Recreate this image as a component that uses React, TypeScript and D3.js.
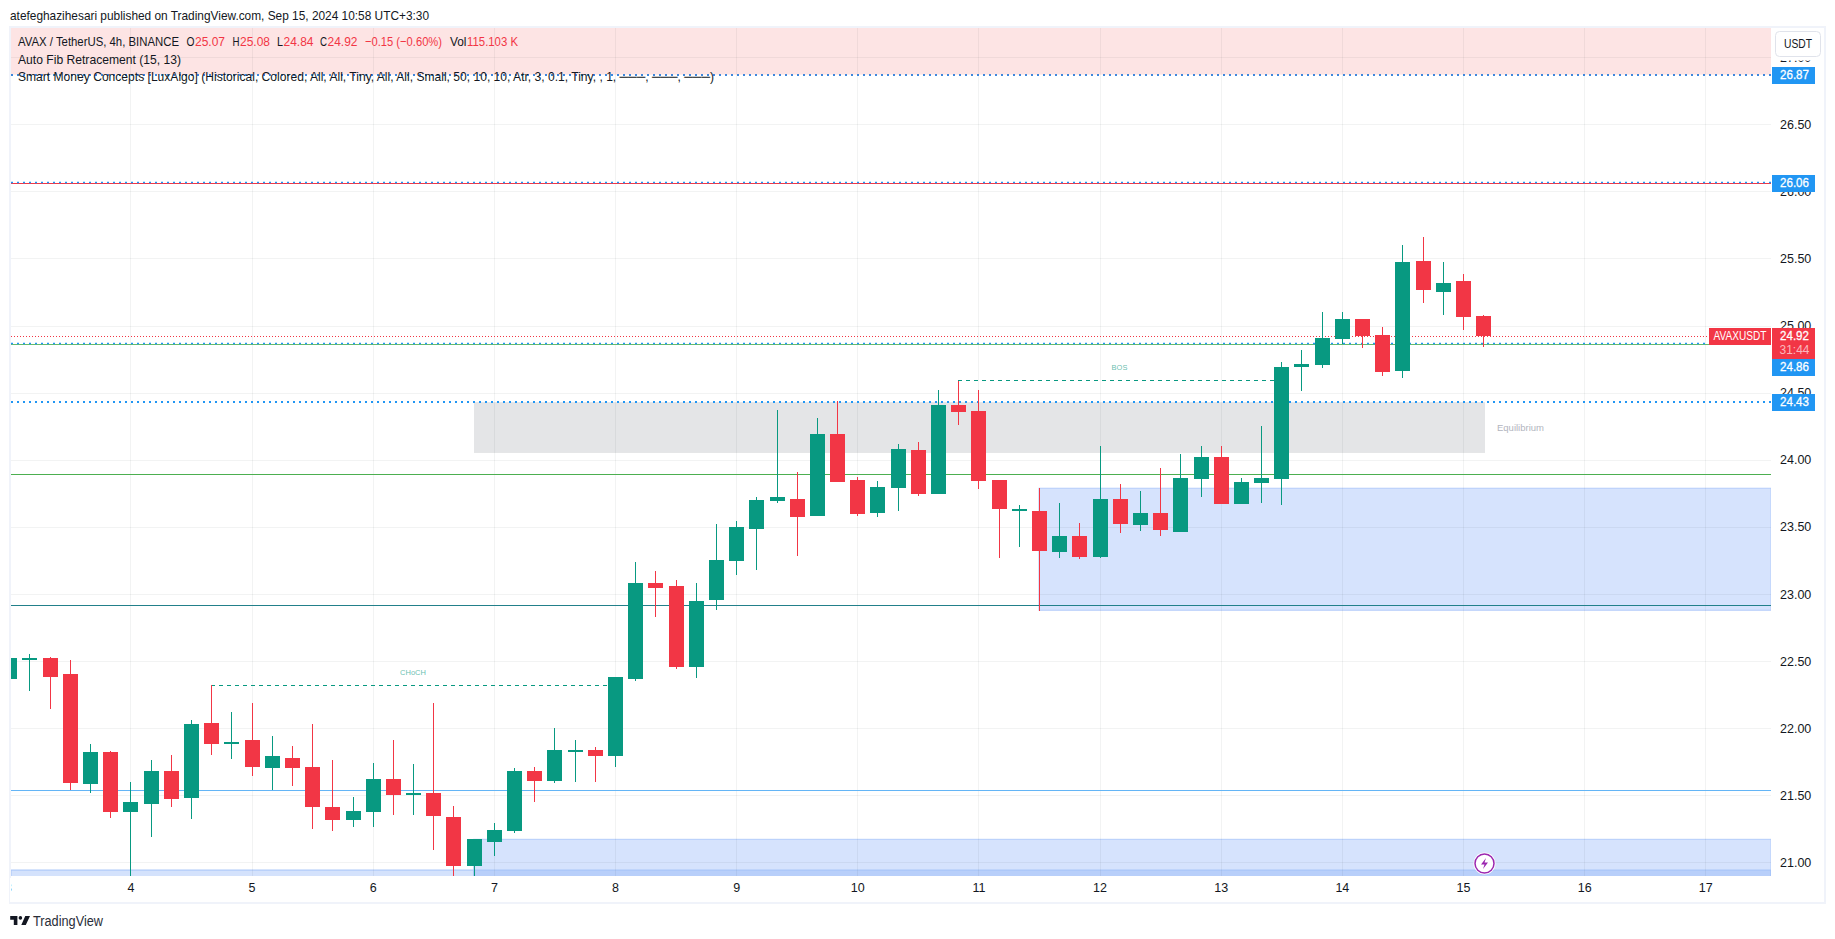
import React, { useEffect, useRef } from 'react';
import * as d3 from 'd3';

// 4h candles, first one sits on the day 3 tick
const opens = [22.366, 22.515, 22.523, 22.404, 21.584, 21.822, 21.375, 21.435, 21.681, 21.48, 22.039, 21.89, 21.912, 21.703, 21.778, 21.711, 21.413, 21.316, 21.375, 21.621, 21.502, 21.517, 21.338, 20.973, 21.152, 21.234, 21.681, 21.606, 21.83, 21.837, 21.793, 22.367, 23.082, 23.06, 22.456, 22.956, 23.246, 23.485, 23.693, 23.708, 23.582, 24.193, 23.85, 23.604, 23.79, 24.073, 23.746, 24.409, 24.364, 23.85, 23.625, 23.619, 23.313, 23.433, 23.276, 23.708, 23.514, 23.604, 23.462, 23.857, 24.021, 23.671, 23.827, 23.857, 24.692, 24.707, 24.9, 25.049, 24.93, 24.662, 25.481, 25.251, 25.332, 25.07];
const closes = [22.523, 22.525, 22.381, 21.591, 21.822, 21.375, 21.45, 21.681, 21.472, 22.031, 21.882, 21.9, 21.711, 21.793, 21.703, 21.413, 21.316, 21.383, 21.621, 21.502, 21.517, 21.345, 20.973, 21.174, 21.241, 21.681, 21.606, 21.837, 21.84, 21.793, 22.382, 23.082, 23.045, 22.456, 22.948, 23.254, 23.5, 23.701, 23.723, 23.574, 24.193, 23.835, 23.597, 23.798, 24.081, 23.746, 24.409, 24.357, 23.842, 23.634, 23.634, 23.321, 23.433, 23.276, 23.708, 23.522, 23.604, 23.477, 23.865, 24.021, 23.671, 23.835, 23.865, 24.692, 24.714, 24.908, 25.049, 24.923, 24.654, 25.474, 25.265, 25.318, 25.064, 24.92];
const highs = [22.523, 22.553, 22.533, 22.508, 21.882, 21.83, 21.599, 21.763, 21.8, 22.061, 22.319, 22.12, 22.188, 21.942, 21.867, 22.031, 21.763, 21.487, 21.74, 21.912, 21.733, 22.188, 21.42, 21.174, 21.293, 21.703, 21.711, 22.001, 21.912, 21.86, 22.382, 23.239, 23.172, 23.105, 23.082, 23.522, 23.544, 23.723, 24.371, 23.909, 24.312, 24.44, 23.872, 23.842, 24.118, 24.133, 24.52, 24.59, 24.52, 23.85, 23.664, 23.79, 23.678, 23.53, 24.103, 23.82, 23.768, 23.939, 24.044, 24.103, 24.103, 23.865, 24.252, 24.729, 24.818, 25.101, 25.101, 25.049, 24.99, 25.601, 25.66, 25.474, 25.385, 25.08];
const lows = [22.366, 22.277, 22.143, 21.539, 21.517, 21.331, 20.89, 21.189, 21.413, 21.323, 21.8, 21.77, 21.644, 21.539, 21.569, 21.249, 21.234, 21.264, 21.264, 21.353, 21.353, 21.092, 20.89, 20.89, 21.047, 21.219, 21.45, 21.591, 21.599, 21.599, 21.711, 22.352, 22.829, 22.442, 22.374, 22.881, 23.142, 23.179, 23.678, 23.284, 23.582, 23.835, 23.582, 23.574, 23.619, 23.731, 23.746, 24.26, 23.783, 23.269, 23.35, 22.874, 23.269, 23.261, 23.269, 23.455, 23.47, 23.433, 23.462, 23.723, 23.671, 23.671, 23.678, 23.664, 24.513, 24.684, 24.863, 24.833, 24.624, 24.61, 25.168, 25.079, 24.967, 24.84];

const priceTicks = [21, 21.5, 22, 22.5, 23, 23.5, 24, 24.5, 25, 25.5, 26, 26.5, 27];
const dayTicks = [3, 4, 5, 6, 7, 8, 9, 10, 11, 12, 13, 14, 15, 16, 17];

// text, x, colour, width
const legendParts = [
  ['AVAX / TetherUS, 4h, BINANCE', 18, '#131722', 161],
  ['O', 186.5, '#131722', 8], ['25.07', 195, '#f23645', 30],
  ['H', 232.5, '#131722', 7], ['25.08', 240, '#f23645', 30],
  ['L', 277, '#131722', 6], ['24.84', 283.5, '#f23645', 30],
  ['C', 320, '#131722', 7], ['24.92', 327.5, '#f23645', 30],
  ['−0.15 (−0.60%)', 365, '#f23645', 77],
  ['Vol', 450, '#131722', 16.5], ['115.103 K', 467, '#f23645', 51],
];
const studies = [
  ['Auto Fib Retracement (15, 13)', 163],
  ['Smart Money Concepts [LuxAlgo] (Historical, Colored, All, All, Tiny, All, All, Small, 50, 10, 10, Atr, 3, 0.1, Tiny, , 1, ───, ───, ───)', 696],
];

const FONT = '"Liberation Sans", Arial, sans-serif';
const GREEN = '#089981';
const RED = '#f23645';
const BLUE = '#2196f3';

export default function App() {
  const ref = useRef<SVGSVGElement>(null);

  useEffect(() => {
    const svg = d3.select(ref.current);
    svg.selectAll('*').remove();

    const pane = { left: 11, right: 1771, top: 28, bottom: 876 };
    const x = d3.scaleLinear().domain([8, 15]).range([615, 1463]);
    const y = d3.scaleLinear().domain([21, 26.5]).range([862.4, 124.3]);
    const px = (v: number) => Math.round(y(v)) + 0.5;
    const barX = (i: number) => Math.round(x(3 + i / 6));

    svg.append('rect').attr('width', 1835).attr('height', 939).attr('fill', '#fff');

    // frame around pane + axes
    svg.append('rect')
      .attr('x', 10).attr('y', 27).attr('width', 1815).attr('height', 876)
      .attr('fill', 'none').attr('stroke', '#f0f3fa').attr('stroke-width', 2);

    svg.append('clipPath').attr('id', 'pane').append('rect')
      .attr('x', pane.left).attr('y', pane.top)
      .attr('width', pane.right - pane.left).attr('height', pane.bottom - pane.top);

    const g = svg.append('g').attr('clip-path', 'url(#pane)');

    // premium zone up top
    g.append('rect')
      .attr('x', pane.left).attr('y', pane.top)
      .attr('width', pane.right - pane.left).attr('height', y(26.87) - pane.top)
      .attr('fill', '#fde4e4');

    // boxes are translucent so the grid shows through them
    const box = (day0: number, p0: number, p1: number, fill: string, stroke?: string) => {
      const r = g.append('rect')
        .attr('x', day0 === 0 ? pane.left : x(day0)).attr('y', y(p0))
        .attr('width', pane.right - (day0 === 0 ? pane.left : x(day0)))
        .attr('height', y(p1) - y(p0))
        .attr('fill', fill);
      if (stroke) r.attr('stroke', stroke);
    };
    box(3 + 51 / 6, 23.788, 22.879, '#d6e3fd', '#b4ccfa');
    box(3 + 23 / 6, 21.172, 20.8, '#d6e3fd', '#b4ccfa');
    box(0, 20.943, 20.8, 'rgba(120,165,245,0.32)', '#a5c3f8');

    g.append('rect')
      .attr('x', 474).attr('y', y(24.43))
      .attr('width', 1485 - 474).attr('height', y(24.051) - y(24.43))
      .attr('fill', '#e4e5e7');

    // grid
    g.append('g').selectAll('line').data(priceTicks).join('line')
      .attr('x1', pane.left).attr('x2', pane.right)
      .attr('y1', d => px(d)).attr('y2', d => px(d))
      .attr('stroke', 'rgba(42,46,57,0.06)');
    g.append('g').selectAll('line').data(dayTicks).join('line')
      .attr('x1', d => Math.round(x(d)) + 0.5).attr('x2', d => Math.round(x(d)) + 0.5)
      .attr('y1', pane.top).attr('y2', pane.bottom)
      .attr('stroke', 'rgba(42,46,57,0.06)');

    // horizontal levels
    const level = (yPos: number, color: string, dash?: string, w = 1, x2 = pane.right) => {
      const l = g.append('line')
        .attr('x1', pane.left).attr('x2', x2)
        .attr('y1', yPos).attr('y2', yPos)
        .attr('stroke', color).attr('stroke-width', w);
      if (dash) l.attr('stroke-dasharray', dash);
    };
    level(px(26.06), RED);
    level(px(24.86), '#66bb6a');
    level(px(23.892), '#4caf50');
    level(px(22.916), '#22808a');
    level(px(21.537), '#64b5f6');
    level(px(24.92), RED, '1 2', 1, 1709);
    level(Math.round(y(26.87)), '#3f87dc', '2 4', 2);
    level(px(26.06) - 0.9, BLUE, '2 4', 1.5);
    level(px(24.86) - 1.1, BLUE, '2 4', 1.5);
    level(Math.round(y(24.43)), BLUE, '2 4', 2);

    // structure breaks
    const breaks = [
      { from: 10, to: 30, price: 22.319, label: 'CHoCH' },
      { from: 47, to: 63, price: 24.593, label: 'BOS' },
    ];
    breaks.forEach(b => {
      g.append('line')
        .attr('x1', barX(b.from)).attr('x2', barX(b.to))
        .attr('y1', px(b.price)).attr('y2', px(b.price))
        .attr('stroke', GREEN).attr('stroke-dasharray', '4 4');
      g.append('text')
        .attr('x', (barX(b.from) + barX(b.to)) / 2).attr('y', px(b.price) - 12)
        .attr('text-anchor', 'middle').attr('dominant-baseline', 'middle')
        .attr('font-family', FONT).attr('font-size', 7.5)
        .attr('fill', GREEN).attr('fill-opacity', 0.65).text(b.label);
    });
    g.append('text')
      .attr('x', 1497).attr('y', 428).attr('dominant-baseline', 'middle')
      .attr('font-family', FONT).attr('font-size', 9.5).attr('fill', '#b2b5be').text('Equilibrium');

    // candles
    const color = (i: number) => (closes[i] >= opens[i] ? GREEN : RED);
    const bars = g.append('g').selectAll('g').data(opens).join('g');
    bars.append('line')
      .attr('x1', (_, i) => barX(i) + 0.5).attr('x2', (_, i) => barX(i) + 0.5)
      .attr('y1', (_, i) => Math.round(y(highs[i]))).attr('y2', (_, i) => Math.round(y(lows[i])))
      .attr('stroke', (_, i) => color(i));
    bars.append('rect')
      .attr('x', (_, i) => barX(i) - 7).attr('width', 15)
      .attr('y', (_, i) => Math.round(y(Math.max(opens[i], closes[i]))))
      .attr('height', (_, i) => Math.max(2, Math.round(Math.abs(y(opens[i]) - y(closes[i])))))
      .attr('fill', (_, i) => color(i));

    // price axis
    const axisY = svg.append('g')
      .attr('transform', 'translate(1780,0)')
      .call(d3.axisRight(y).tickValues(priceTicks).tickFormat(d3.format('.2f')).tickSize(0));
    axisY.select('.domain').remove();
    axisY.selectAll('text').attr('x', 0).attr('font-family', FONT).attr('font-size', 12.5).attr('fill', '#131722');

    // time axis
    const axisX = svg.append('g')
      .attr('transform', 'translate(0,876)')
      .call(d3.axisBottom(x).tickValues(dayTicks).tickFormat(d3.format('d')).tickSize(0));
    axisX.select('.domain').remove();
    axisX.selectAll('text').attr('y', 7).attr('font-family', FONT).attr('font-size', 12.5).attr('fill', '#131722');
    axisX.selectAll('.tick').filter(d => d === 3).select('text').attr('text-anchor', 'end').attr('dx', 2);
    // first label is cut by the chart edge
    svg.append('rect').attr('x', 0).attr('y', 878).attr('width', 11).attr('height', 24).attr('fill', '#fff');
    svg.append('rect').attr('x', 9).attr('y', 878).attr('width', 1).attr('height', 24).attr('fill', '#f0f3fa');

    // price labels, 24.86 is pushed below the countdown box
    const labels = [[26.87, '26.87', 0], [26.06, '26.06', 0], [24.86, '24.86', 23], [24.43, '24.43', 0]] as [number, string, number][];
    labels.forEach(([p, t, shift]) => {
      svg.append('rect')
        .attr('x', 1772).attr('y', px(p) - 8.5 + shift).attr('width', 43).attr('height', 17)
        .attr('fill', BLUE);
      svg.append('text')
        .attr('x', 1794.5).attr('y', px(p) + 0.5 + shift).attr('text-anchor', 'middle').attr('dominant-baseline', 'middle')
        .attr('font-family', FONT).attr('font-size', 13).attr('stroke', '#fff').attr('stroke-width', 0.3).attr('fill', '#fff')
        .attr('textLength', 29).attr('lengthAdjust', 'spacingAndGlyphs').text(t);
    });
    svg.append('path')
      .attr('d', 'M1772 328H1815V359H1772Z').attr('fill', RED);
    svg.append('text')
      .attr('x', 1794.5).attr('y', 336.5).attr('text-anchor', 'middle').attr('dominant-baseline', 'middle')
      .attr('font-family', FONT).attr('font-size', 13).attr('stroke', '#fff').attr('stroke-width', 0.3).attr('fill', '#fff')
      .attr('textLength', 29).attr('lengthAdjust', 'spacingAndGlyphs').text('24.92');
    svg.append('text')
      .attr('x', 1794.5).attr('y', 351).attr('text-anchor', 'middle').attr('dominant-baseline', 'middle')
      .attr('font-family', FONT).attr('font-size', 13).attr('fill', '#fff').attr('fill-opacity', 0.65)
      .attr('textLength', 30).attr('lengthAdjust', 'spacingAndGlyphs').text('31:44');
    svg.append('rect').attr('x', 1709).attr('y', 328).attr('width', 62).attr('height', 17).attr('fill', RED);
    svg.append('text')
      .attr('x', 1740).attr('y', 336.5).attr('text-anchor', 'middle').attr('dominant-baseline', 'middle')
      .attr('font-family', FONT).attr('font-size', 12.5).attr('fill', '#fff')
      .attr('textLength', 53).attr('lengthAdjust', 'spacingAndGlyphs').text('AVAXUSDT');

    // currency button, its white margin hides most of the 27.00 tick
    svg.append('rect').attr('x', 1772).attr('y', 28).attr('width', 52).attr('height', 32.5).attr('fill', '#fff');
    svg.append('rect')
      .attr('x', 1775.5).attr('y', 31.5).attr('width', 45).attr('height', 25).attr('rx', 4)
      .attr('fill', '#fff').attr('stroke', '#e0e3eb');
    svg.append('text')
      .attr('x', 1798).attr('y', 44.5).attr('text-anchor', 'middle').attr('dominant-baseline', 'middle')
      .attr('font-family', FONT).attr('font-size', 13).attr('fill', '#131722')
      .attr('textLength', 28).attr('lengthAdjust', 'spacingAndGlyphs').text('USDT');

    // published line and legend
    svg.append('text')
      .attr('x', 10).attr('y', 19.5).attr('font-family', FONT).attr('font-size', 13).attr('fill', '#131722')
      .attr('textLength', 419).attr('lengthAdjust', 'spacingAndGlyphs')
      .text('atefeghazihesari published on TradingView.com, Sep 15, 2024 10:58 UTC+3:30');
    svg.append('g').selectAll('text').data(legendParts).join('text')
      .attr('x', d => d[1] as number).attr('y', 46)
      .attr('font-family', FONT).attr('font-size', 13).attr('fill', d => d[2] as string)
      .attr('textLength', d => d[3] as number).attr('lengthAdjust', 'spacingAndGlyphs')
      .text(d => d[0] as string);
    svg.append('g').selectAll('text').data(studies).join('text')
      .attr('x', 18).attr('y', (_, i) => 63.5 + i * 17)
      .attr('font-family', FONT).attr('font-size', 13).attr('fill', '#131722')
      .attr('textLength', d => d[1] as number).attr('lengthAdjust', 'spacingAndGlyphs')
      .text(d => d[0] as string);

    // alert bolt
    const bolt = svg.append('g').attr('transform', 'translate(1484.5,863.5)');
    bolt.append('circle').attr('r', 11).attr('fill', '#fff');
    bolt.append('circle').attr('r', 9.5).attr('fill', '#fff').attr('stroke', '#9c27b0').attr('stroke-width', 1.5);
    bolt.append('path').attr('d', 'M1.5-5.5-3.5 1H0L-1.5 5.5 3.5-1H0Z').attr('fill', '#9c27b0');

    // logo
    svg.append('path')
      .attr('transform', 'translate(9,912.5) scale(0.6)')
      .attr('d', 'M14 6H2v6h6v9h6V6Zm14 15h-7.5l6.6-15H35l-7 15ZM22 9a3 3 0 1 1-6 0 3 3 0 0 1 6 0Z')
      .attr('fill', '#131722');
    svg.append('text')
      .attr('x', 33).attr('y', 926).attr('font-family', FONT).attr('font-size', 14).attr('fill', '#2a2e39')
      .attr('textLength', 70).attr('lengthAdjust', 'spacingAndGlyphs')
      .text('TradingView');
  }, []);

  return (
    <svg
      ref={ref}
      width={1835}
      height={939}
      style={{ position: 'absolute', left: 0, top: 0, display: 'block' }}
    />
  );
}
